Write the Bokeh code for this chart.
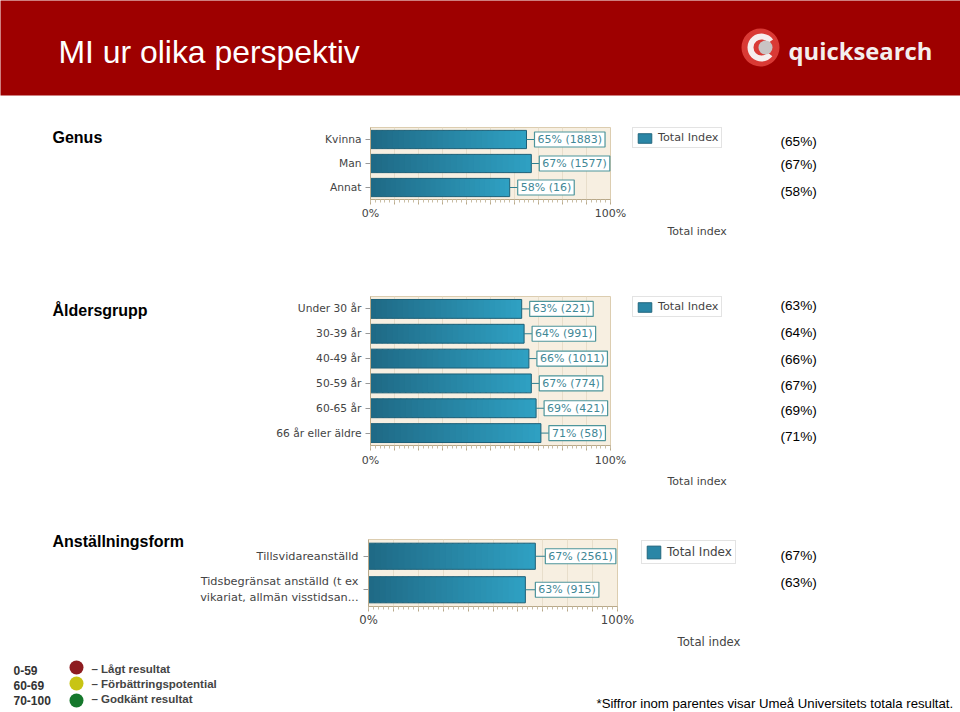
from bokeh.plotting import figure
from bokeh.models import (ColumnDataSource, FactorRange, Range1d, FixedTicker, Label,
                          Legend, LegendItem)
from bokeh.core.properties import value
from bokeh.embed import file_html
from bokeh.resources import INLINE

# ---- data ----
genus_cats = ["Kvinna", "Man", "Annat"]
genus_vals = [65, 67, 58]
genus_ns = [1883, 1577, 16]
genus_uni = [65, 67, 58]

age_cats = ["Under 30 år", "30-39 år", "40-49 år", "50-59 år", "60-65 år", "66 år eller äldre"]
age_vals = [63, 64, 66, 67, 69, 71]
age_ns = [221, 991, 1011, 774, 421, 58]
age_uni = [63, 64, 66, 67, 69, 71]

emp_cats = ["Tillsvidareanställd", "Tidsbegränsat anställd (t ex\nvikariat, allmän visstidsan..."]
emp_vals = [67, 63]
emp_ns = [2561, 915]
emp_uni = [67, 63]

title_text = "MI ur olika perspektiv"
logo_text = "quicksearch"
note_text = "*Siffror inom parentes visar Umeå Universitets totala resultat."
key_ranges = ["0-59", "60-69", "70-100"]
key_labels = ["– Lågt resultat", "– Förbättringspotential", "– Godkänt resultat"]
key_colors = ["#8e1c20", "#c8c414", "#15782c"]

# ---- style ----
VERDANA = "DejaVu Sans"
ARIAL = "Liberation Sans"
DARK, LIGHT = (31, 106, 134), (47, 160, 194)
N_SEG = 28
W, H = 960, 712

# transparent page-sized layer on top: header, outside texts, value labels, legends
over = figure(width=W, height=H, output_backend="svg", toolbar_location=None,
              x_range=Range1d(0, W), y_range=Range1d(H, 0), min_border=0,
              background_fill_alpha=0, border_fill_alpha=0, outline_line_color=None,
              x_axis_location=None, y_axis_location=None,
              styles={"position": "absolute", "left": "0px", "top": "0px"})
over.grid.visible = False


def chart(name, fl, fr, ft, fb, cats, vals, ns, uni, uni_ys, heading, heading_y, legend_box,
          axis_title_xy, bar_h, val_px, tick_px, cat_px, leg_px, cat_standoff, x_standoff, gap_px):
    top = ft - 6
    height = fb + 30 - top
    cats_r = list(reversed(cats))
    p = figure(width=W, height=height, output_backend="svg", toolbar_location=None,
               x_range=Range1d(0, 100), y_range=FactorRange(*cats_r, factor_padding=0),
               min_border_left=fl, min_border_right=W - fr, min_border_top=ft - top,
               min_border_bottom=top + height - fb, background_fill_color="#f7efe1",
               border_fill_alpha=0, outline_line_color="#dccdb0",
               styles={"position": "absolute", "left": "0px", "top": f"{top}px"})
    p.y_range.range_padding = 0
    for i in range(N_SEG):
        f = i / (N_SEG - 1)
        col = "#%02x%02x%02x" % tuple(round(a + (b - a) * f) for a, b in zip(DARK, LIGHT))
        src = ColumnDataSource(dict(y=cats, l=[v * i / N_SEG for v in vals],
                                    r=[min(v, v * (i + 1) / N_SEG + 0.6) for v in vals]))
        p.hbar(y="y", left="l", right="r", height=bar_h, source=src, fill_color=col,
               line_color=None)
    p.hbar(y=cats, left=0, right=vals, height=bar_h, fill_color=None, line_color="#1d6078",
           line_width=1)
    ax = p.xaxis[0]
    ax.ticker = FixedTicker(ticks=list(range(0, 101, 10)), minor_ticks=list(range(0, 101, 2)))
    ax.major_label_overrides = {t: "" for t in range(10, 100, 10)} | {0: "0%", 100: "100%"}
    ax.major_tick_out, ax.major_tick_in = 5, 0
    ax.minor_tick_out, ax.minor_tick_in = 3, 0
    ax.major_tick_line_color = "#b9a98a"
    ax.minor_tick_line_color = "#c9bda3"
    ax.axis_line_color = "#b9a98a"
    ax.major_label_text_font = VERDANA
    ax.major_label_text_font_size = f"{tick_px}px"
    ax.major_label_text_color = "#444444"
    ax.major_label_standoff = x_standoff
    ay = p.yaxis[0]
    ay.major_tick_out, ay.major_tick_in = 5, 0
    ay.minor_tick_line_color = None
    ay.major_tick_line_color = "#999999"
    ay.axis_line_color = "#b9a98a"
    ay.major_label_text_font = VERDANA
    ay.major_label_text_font_size = f"{cat_px}px"
    ay.major_label_text_color = "#444444"
    ay.major_label_standoff = cat_standoff
    p.xgrid.ticker = FixedTicker(ticks=list(range(10, 100, 10)))
    p.xgrid.grid_line_color = "#e8decb"
    p.ygrid.grid_line_color = None

    # same scales on the top layer, stretched to the whole page
    sx = (fr - fl) / 100
    sy = (fb - ft) / len(cats)
    over.extra_x_ranges[name] = Range1d(-fl / sx, (W - fl) / sx)
    over.extra_y_ranges[name] = Range1d((H - ft) / sy, -ft / sy)
    ys = [i + 0.5 for i in range(len(cats))]
    gap = gap_px / sx
    over.segment(x0=vals, x1=[v + gap for v in vals], y0=ys, y1=ys, line_color="#2f7f8f",
                 line_width=1, x_range_name=name, y_range_name=name)
    for v, n, y in zip(vals, ns, ys):
        over.add_layout(Label(x=v, y=y, x_range_name=name, y_range_name=name,
                              text=f"{v}% ({n})", x_offset=gap_px, padding=(3, 1),
                              text_baseline="middle", text_font=VERDANA,
                              text_font_size=f"{val_px}px", text_color="#3f8796",
                              background_fill_color="#ffffff", border_line_color="#4d959b",
                              border_line_width=1.2))
    # legend: the swatch is a zero-size bar that only lends its colours to the legend
    lx, ly, lw, lh = legend_box
    swatch = over.hbar(y=[0], left=[0], right=[0], height=0, fill_color="#2a86a6",
                       line_color="#1d6078", line_alpha=0.9, x_range_name=name, y_range_name=name)
    over.add_layout(Legend(items=[LegendItem(label="Total Index", renderers=[swatch])],
                           location=(lx, H - ly - lh), label_text_font=VERDANA,
                           label_text_font_size=f"{leg_px}px", label_text_color="#444444",
                           border_line_color="#c8c8c8", border_line_width=1.5,
                           glyph_width=17, glyph_height=lh - 8, margin=0, padding=3, spacing=0,
                           label_standoff=5, label_height=lh - 8,
                           background_fill_color="#ffffff"))
    # outside texts
    over.text(x=[52], y=[heading_y], text=[heading], text_font=value(ARIAL),
              text_font_size="16px", text_font_style="bold", text_baseline="middle")
    over.text(x=[axis_title_xy[0]], y=[axis_title_xy[1]], text=["Total index"],
              text_font=value(VERDANA), text_font_size=f"{tick_px}px", text_color="#444444",
              text_baseline="middle")
    over.text(x=[780] * len(uni), y=uni_ys, text=[f"({u}%)" for u in uni],
              text_font=value(ARIAL), text_font_size="13.6px", text_baseline="middle")
    return p


# header
over.quad(left=[-5], right=[W + 5], top=[-5], bottom=[95], fill_color="#9e0000", line_color=None)
over.text(x=[58], y=[51], text=[title_text], text_font=value(ARIAL), text_font_size="31.9px",
          text_color="#ffffff", text_baseline="middle")
over.text(x=[788], y=[50], text=[logo_text], text_font=value("Open Sans"),
          text_font_size="23.8px", text_font_style="bold", text_color="#f4eeee",
          text_baseline="middle")
over.circle(x=[760], y=[47], radius=19, fill_color="#d93a35", line_color=None)
over.annular_wedge(x=[761], y=[47], inner_radius=8, outer_radius=14, start_angle=0.6,
                   end_angle=5.6, fill_color="#f6eeee", line_color=None)
over.circle(x=[765], y=[47], radius=7, fill_color="#c9c4c4", line_color=None)

chart_a = chart("genus", 370, 610, 127, 199, genus_cats, genus_vals, genus_ns, genus_uni,
                [140.5, 163.5, 190.5], "Genus", 137, (632, 128, 89, 20), (667, 231), 0.76,
                11, 11, 10.7, 11.2, 4, 2, 8)
chart_b = chart("age", 370, 610, 296, 445, age_cats, age_vals, age_ns, age_uni,
                [304.5, 331.5, 358.5, 384.5, 409.5, 435.5], "Åldersgrupp", 310, (632, 297, 89, 20),
                (667, 481), 0.76, 11, 11, 10.7, 11.2, 4, 3, 8)
chart_c = chart("emp", 368, 617, 539, 606, emp_cats, emp_vals, emp_ns, emp_uni,
                [554.5, 581.5], "Anställningsform", 541, (641, 540, 94, 24), (677, 641), 0.78,
                11, 11.7, 11.3, 12, 5, 1, 10)

# footer
over.text(x=[13] * 3, y=[670, 685, 700], text=key_ranges, text_font=value(ARIAL),
          text_font_size="12px", text_font_style="bold", text_color="#333333",
          text_baseline="middle")
over.circle(x=[76] * 3, y=[667, 683, 700], radius=7, fill_color=key_colors, line_color=None)
over.text(x=[91] * 3, y=[668, 683, 698], text=key_labels, text_font=value(ARIAL),
          text_font_size="11.5px", text_font_style="bold", text_color="#444444",
          text_baseline="middle")
over.text(x=[596], y=[703], text=[note_text], text_font=value(ARIAL), text_font_size="13.2px",
          text_color="#000000", text_baseline="middle")

page = [chart_a, chart_b, chart_c, over]
open("out.html", "w").write(file_html(page, INLINE))
